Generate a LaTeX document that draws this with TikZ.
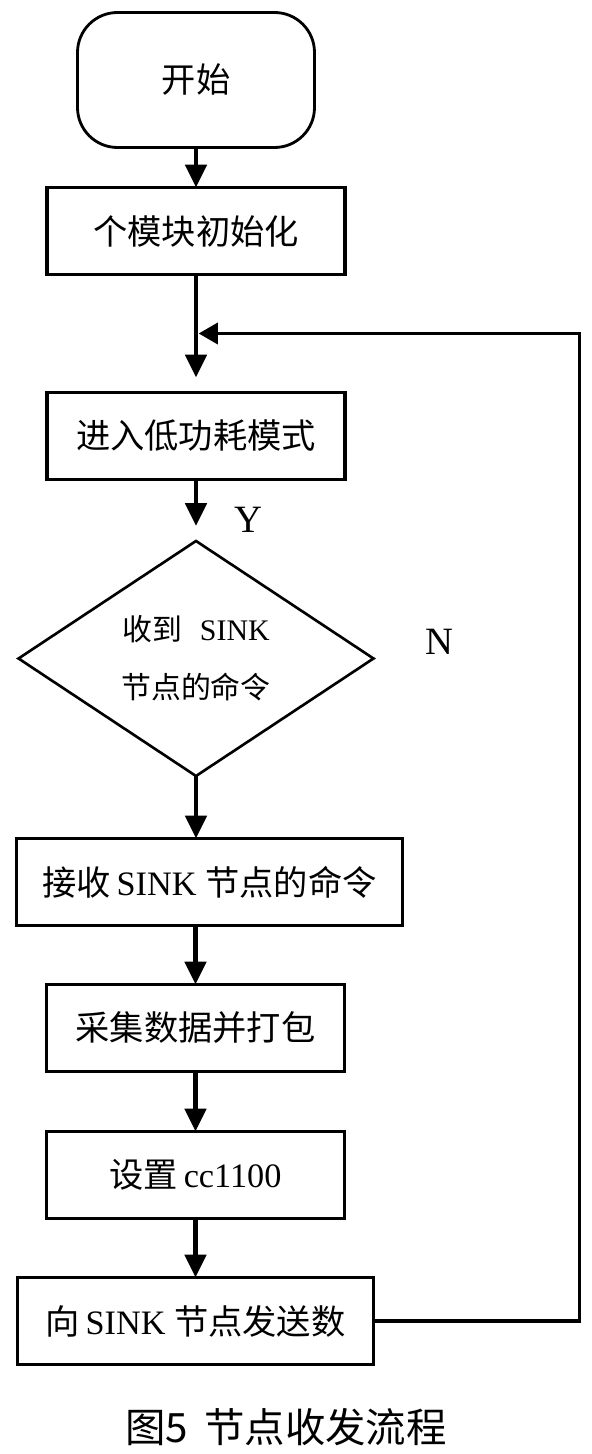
\documentclass[tikz,border=0pt]{standalone}
\usepackage{fontspec}
\setmainfont{Liberation Serif}
\newfontfamily\cjk{Noto Sans CJK SC}
\usepackage{tikz}
\usetikzlibrary{arrows.meta}
\usetikzlibrary{calc}
\usetikzlibrary{positioning}
\usetikzlibrary{shapes.geometric}
\tikzset{
    arrow/.style={-{Triangle[width=12pt,length=13pt]}, line width=2.6pt},
    loopline/.style={-{Triangle[width=12pt,length=11pt]}, line width=2.2pt, shorten >=1.5pt},
    box/.style = {
      rectangle,
      draw,
      line width=1.8pt,
      outer sep=0pt,
      minimum width=5.96cm,
      minimum height=1.74cm,
      font=\fontsize{19.5}{23}\selectfont
    },
    terminal/.style = {
      rectangle,
      draw,
      line width=1.6pt,
      outer sep=0pt,
      rounded corners=0.8cm,
      minimum width=4.74cm,
      minimum height=2.7cm,
      font=\fontsize{19.5}{23}\selectfont
    },
    decision/.style = {
      diamond,
      draw,
      line width=1.5pt,
      outer sep=0pt,
      inner sep=0pt,
      minimum width=7.1cm,
      minimum height=4.6cm,
      align=center,
      font=\fontsize{17}{33}\selectfont
    },
    yesno/.style = {font=\fontsize{22}{26}\selectfont},
}

\begin{document}
\begin{tikzpicture}
      \useasboundingbox (0,0) rectangle (11.82,-29.08);

      \node [terminal] (start) at (3.92,-1.6) {\cjk 开始};

      \node [box, below=0.8cm of start] (init) {\cjk 个模块初始化};

      \node [box, below=2.36cm of init] (lowpower) {\cjk 进入低功耗模式};

      \node [decision, below=1.23cm of lowpower] (check)
        {{\cjk 收到}\hspace{0.6em}SINK\\{\cjk 节点的命令}};

      \node [
        box,
        minimum width=7.72cm,
        below=1.25cm of check,
        xshift=0.27cm,
      ] (receive) {{\cjk 接收}\,SINK {\cjk 节点的命令}};

      \node [box, below=1.18cm of receive, xshift=-0.28cm] (collect) {\cjk 采集数据并打包};

      \node [box, below=1.2cm of collect] (config) {{\cjk 设置}\,cc1100};

      \node [
        box,
        minimum width=7.12cm,
        below=1.18cm of config,
      ] (send) {{\cjk 向}\,SINK {\cjk 节点发送数}};

      \node [yesno] (yes) at (4.96,-10.4) {Y};
      \node [yesno] (no) at (8.78,-12.84) {N};

      \coordinate (merge) at ($(init.south)!0.5!(lowpower.north)$);

      \draw[arrow] (start) -- (init);
      \draw[arrow, shorten >=0.3cm] (init) -- (lowpower);
      \draw[arrow, shorten >=0.3cm] (lowpower) -- (check);
      \draw[arrow] (check.south) -- (check.south |- receive.north);
      \draw[arrow] (collect.north |- receive.south) -- (collect.north);
      \draw[arrow] (collect) -- (config);
      \draw[arrow] (config) -- (send);
      \draw[loopline] (send.east) -- ++(4.12,0) |- (merge);

      \node [font=\fontsize{23}{27}\selectfont] (caption) at (5.72,-28.54)
        {\cjk 图5\hspace{0.4em}节点收发流程};
    \end{tikzpicture}
\end{document}
